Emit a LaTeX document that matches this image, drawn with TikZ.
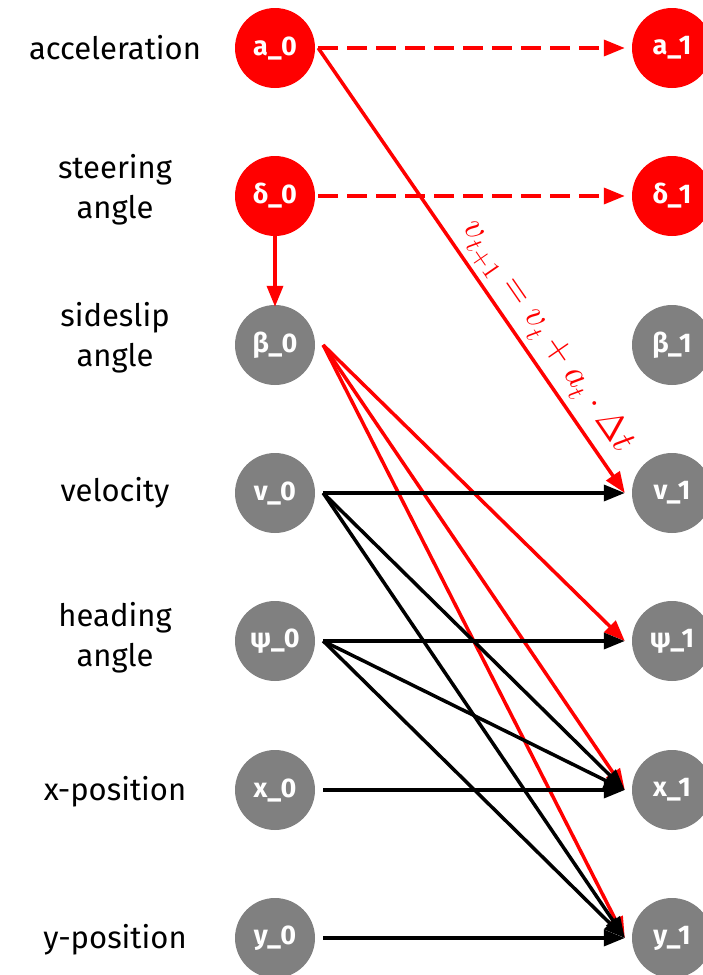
\documentclass[tikz,border=0pt]{standalone}
\usepackage{fontspec}
\usepackage{unicode-math}
\setmainfont{Fira Sans}
\setmathfont{Latin Modern Math}
\usepackage{tikz}
\usetikzlibrary{arrows.meta}
\definecolor{ctrlred}{HTML}{FF0000}
\definecolor{stategrey}{HTML}{808080}

\begin{document}
\begin{tikzpicture}[
  x=1pt,y=-1pt,
  font=\fontsize{31}{40}\selectfont,
  ctrlnode/.style={circle,fill=ctrlred,minimum size=80pt,inner sep=0pt,text=white,font=\fontsize{27}{30}\selectfont\bfseries},
  statenode/.style={ctrlnode,fill=stategrey},
  varlabel/.style={align=center},
  arr/.style={-{Triangle[length=21pt,width=16pt]},line width=3.5pt},
  redarr/.style={arr,ctrlred},
  dasharr/.style={redarr,dash pattern=on 20pt off 9pt},
  eqlabel/.style={text=ctrlred,font=\fontsize{36}{40}\selectfont},
]
\clip (0,0) rectangle (703,975);

% Variable names (left)
\node[varlabel] (lacc)  at (115,48)  {acceleration};
\node[varlabel] (lstr)  at (115,190) {steering\\angle};
\node[varlabel] (lslip) at (115,338) {sideslip\\angle};
\node[varlabel] (lvel)  at (115,493) {velocity};
\node[varlabel] (lhead) at (115,638) {heading\\angle};
\node[varlabel] (lx)    at (115,792) {x-position};
\node[varlabel] (ly)    at (115,940) {y-position};

% Time step 0
\node[ctrlnode]  (a0)    at (275,48)  {a\_0};
\node[ctrlnode]  (d0)    at (275,196) {δ\_0};
\node[statenode] (b0)    at (275,345) {β\_0};
\node[statenode] (v0)    at (275,493) {v\_0};
\node[statenode] (psi0)  at (275,641) {ψ\_0};
\node[statenode] (x0)    at (275,790) {x\_0};
\node[statenode] (y0)    at (275,938) {y\_0};

% Time step 1
\node[ctrlnode]  (a1)    at (672,48)  {a\_1};
\node[ctrlnode]  (d1)    at (672,196) {δ\_1};
\node[statenode] (b1)    at (672,345) {β\_1};
\node[statenode] (v1)    at (672,493) {v\_1};
\node[statenode] (psi1)  at (672,641) {ψ\_1};
\node[statenode] (x1)    at (672,790) {x\_1};
\node[statenode] (y1)    at (672,938) {y\_1};

% Inputs carried over
\draw[dasharr] ([xshift=3pt]a0.east) -- ([xshift=-7pt]a1.west);
\draw[dasharr] ([xshift=3pt]d0.east) -- ([xshift=-7pt]d1.west);
\draw[redarr] (d0.south) -- ([yshift=-2pt]b0.north);

% Red dependencies
\draw[redarr] ([xshift=3pt]a0.east) -- node[eqlabel,pos=0.68,sloped,above=1pt] {$v_{t+1} = v_t + a_t \cdot \mitDelta t$} ([xshift=-7pt]v1.west);
\draw[redarr] ([xshift=8pt]b0.east) -- ([xshift=-7pt]psi1.west);
\draw[redarr] ([xshift=8pt]b0.east) -- ([xshift=-7pt]x1.west);
\draw[redarr] ([xshift=8pt]b0.east) -- ([xshift=-7pt]y1.west);

% Black dependencies
\draw[arr] ([xshift=8pt]v0.east) -- ([xshift=-7pt]v1.west);
\draw[arr] ([xshift=8pt]v0.east) -- ([xshift=-7pt]x1.west);
\draw[arr] ([xshift=8pt]v0.east) -- ([xshift=-7pt]y1.west);
\draw[arr] ([xshift=8pt]psi0.east) -- ([xshift=-7pt]psi1.west);
\draw[arr] ([xshift=8pt]psi0.east) -- ([xshift=-7pt]x1.west);
\draw[arr] ([xshift=8pt]psi0.east) -- ([xshift=-7pt]y1.west);
\draw[arr] ([xshift=8pt]x0.east) -- ([xshift=-7pt]x1.west);
\draw[arr] ([xshift=8pt]y0.east) -- ([xshift=-7pt]y1.west);
\end{tikzpicture}
\end{document}
